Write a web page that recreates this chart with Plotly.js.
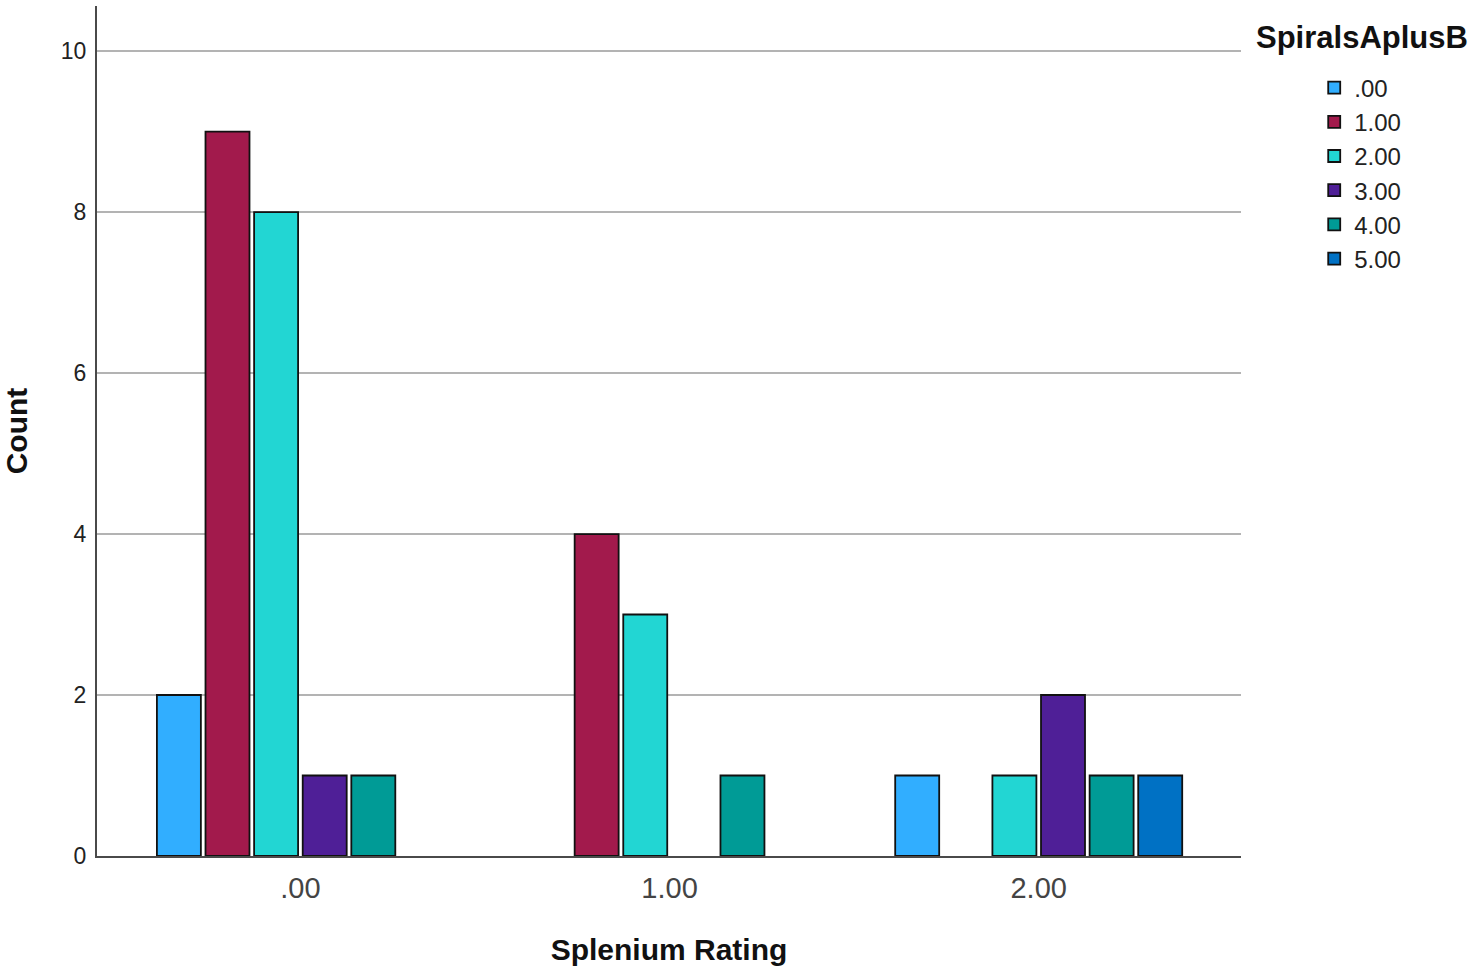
<!DOCTYPE html>
<html>
<head>
<meta charset="utf-8">
<script src="https://cdn.plot.ly/plotly-3.0.1.min.js"></script>
<style>html,body{margin:0;padding:0;background:#fff;}#chart{width:1477px;height:975px;}</style>
</head>
<body>
<div id="chart"></div>
<script>
// Categories on the x axis (Splenium Rating)
const categories = [".00", "1.00", "2.00"];
// Series: SpiralsAplusB groups (null = no bar)
const seriesNames = [".00", "1.00", "2.00", "3.00", "4.00", "5.00"];
const s00 = [2, null, 1];
const s100 = [9, 4, null];
const s200 = [8, 3, 1];
const s300 = [1, null, 2];
const s400 = [1, 1, 1];
const s500 = [null, null, 1];
const yTicks = [0, 2, 4, 6, 8, 10];

const seriesValues = [s00, s100, s200, s300, s400, s500];
const colors = ["#31aeff", "#a21a4c", "#22d6d3", "#4f1f97", "#009b96", "#0071c4"];

const traces = seriesNames.map((name, i) => ({
  type: "bar",
  name: name,
  x: categories,
  y: seriesValues[i],
  marker: {color: colors[i], line: {color: "#111", width: 1.8}},
  hoverinfo: "x+y+name"
}));

const layout = {
  width: 1477,
  height: 975,
  paper_bgcolor: "#fff",
  plot_bgcolor: "#fff",
  barmode: "group",
  bargap: 0.21,
  bargroupgap: 0.095,
  margin: {l: 97, r: 236, t: 6, b: 119},
  font: {family: "Liberation Sans, Arial, sans-serif", color: "#222"},
  xaxis: {
    type: "category",
    range: [-0.551, 2.548],
    showgrid: false,
    showline: true,
    linecolor: "#4a4a4a",
    linewidth: 2,
    ticks: "",
    tickfont: {size: 29, color: "#444"},
    ticklabelstandoff: 5,
    title: {text: "Splenium Rating", font: {size: 30, weight: "bold", color: "#111"}, standoff: 36},
    zeroline: false,
    fixedrange: true
  },
  yaxis: {
    range: [0, 10.56],
    tickvals: yTicks,
    ticktext: yTicks.map(String),
    showgrid: true,
    gridcolor: "#b3b3b3",
    gridwidth: 2,
    showline: true,
    linecolor: "#4a4a4a",
    linewidth: 2,
    zeroline: false,
    ticks: "",
    tickfont: {size: 23, color: "#222"},
    ticklabelstandoff: 4,
    title: {text: "Count", font: {size: 30, weight: "bold", color: "#111"}, standoff: 30},
    fixedrange: true
  },
  showlegend: true,
  legend: {
    x: 1.064,
    xanchor: "left",
    y: 0.93,
    yanchor: "top",
    font: {size: 24, color: "#222"},
    bgcolor: "rgba(0,0,0,0)",
    traceorder: "normal",
    itemclick: false,
    itemdoubleclick: false
  },
  annotations: [{
    text: "SpiralsAplusB",
    xref: "paper", yref: "paper",
    x: 1.0115, y: 0.963,
    xanchor: "left", yanchor: "middle",
    showarrow: false,
    font: {size: 31, weight: "bold", color: "#111"}
  }]
};

Plotly.newPlot("chart", traces, layout, {displayModeBar: false, staticPlot: true});
</script>
</body>
</html>
